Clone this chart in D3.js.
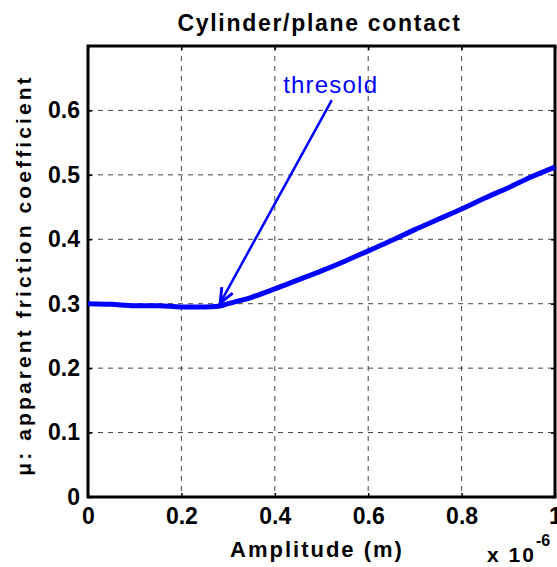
<!DOCTYPE html>
<html><head><meta charset="utf-8">
<script src="https://cdn.jsdelivr.net/npm/d3@7"></script>
<style>
body{margin:0;background:#fff;}
svg{display:block;font-family:"Liberation Sans",Arial,Helvetica,sans-serif;}
</style></head>
<body><svg id="c" width="557" height="567"></svg>
<script>
// Data (amplitude in units of 1e-6 m)
const amplitude = [0,0.05,0.1,0.15,0.2,0.25,0.28,0.3,0.35,0.4,0.45,0.5,0.55,0.6,0.65,0.7,0.75,0.8,0.85,0.9,0.95,1.0];
const mu =        [0.300,0.299,0.297,0.297,0.295,0.295,0.296,0.300,0.310,0.323,0.337,0.351,0.366,0.382,0.398,0.415,0.431,0.447,0.464,0.480,0.497,0.512];
const xTicks = [0,0.2,0.4,0.6,0.8,1];
const xTickLabels = ["0","0.2","0.4","0.6","0.8","1"];
const yTicks = [0,0.1,0.2,0.3,0.4,0.5,0.6];
const yTickLabels = ["0","0.1","0.2","0.3","0.4","0.5","0.6"];
const arrowFrom = [0.522, 0.616];
const arrowTo = [0.283, 0.301];
const annotPos = [0.418, 0.627];
const annotText = "thresold";
const titleText = "Cylinder/plane contact";
const xLabelText = "Amplitude (m)";
const yLabelText = "μ: apparent friction coefficient";

const L=88, R=555, T=46, B=497;
const x = d3.scaleLinear().domain([0,1]).range([L,R]);
const y = d3.scaleLinear().domain([0,0.7]).range([B,T]);
const svg = d3.select("#c");

// grid
const g = svg.append("g");
g.selectAll(".gx").data(xTicks.slice(1,-1)).join("line")
  .attr("x1",d=>x(d)).attr("x2",d=>x(d)).attr("y1",T).attr("y2",B)
  .attr("stroke","#444").attr("stroke-width",1).attr("stroke-dasharray","5,5");
g.selectAll(".gy").data(yTicks.slice(1)).join("line")
  .attr("y1",d=>y(d)).attr("y2",d=>y(d)).attr("x1",L).attr("x2",R)
  .attr("stroke","#444").attr("stroke-width",1).attr("stroke-dasharray","5,5");

// axes with inner ticks
const ax = svg.append("g").attr("transform",`translate(0,${B})`)
  .call(d3.axisBottom(x).tickValues(xTicks).tickFormat((d,i)=>xTickLabels[i]).tickSizeInner(-4).tickSizeOuter(0).tickPadding(10));
const axt = svg.append("g").attr("transform",`translate(0,${T})`)
  .call(d3.axisTop(x).tickValues(xTicks).tickFormat("").tickSizeInner(-4).tickSizeOuter(0));
const ay = svg.append("g").attr("transform",`translate(${L},0)`)
  .call(d3.axisLeft(y).tickValues(yTicks).tickFormat((d,i)=>yTickLabels[i]).tickSizeInner(-4).tickSizeOuter(0).tickPadding(8));
const ayr = svg.append("g").attr("transform",`translate(${R},0)`)
  .call(d3.axisRight(y).tickValues(yTicks).tickFormat("").tickSizeInner(-4).tickSizeOuter(0));
[ax,axt,ay,ayr].forEach(a=>{
  a.select(".domain").remove();
  a.selectAll(".tick line").attr("stroke","#000").attr("stroke-width",1.5);
  a.selectAll("text").attr("font-size",23).attr("font-weight","bold").attr("fill","#000")
   .attr("font-family","'Liberation Sans',Arial,sans-serif");
});
ax.selectAll("text").attr("dy","0.71em").attr("y",11);

// box
svg.append("rect").attr("x",L).attr("y",T).attr("width",R-L).attr("height",B-T)
  .attr("fill","none").attr("stroke","#000").attr("stroke-width",3);

// curve
const line = d3.line().x((d,i)=>x(amplitude[i])).y(d=>y(d)).curve(d3.curveMonotoneX);
svg.append("path").datum(mu).attr("d",line).attr("fill","none")
  .attr("stroke","#0000ff").attr("stroke-width",5).attr("stroke-linejoin","round");

// arrow
const x1=x(arrowFrom[0]), y1=y(arrowFrom[1]), x2=x(arrowTo[0]), y2=y(arrowTo[1]);
svg.append("line").attr("x1",x1).attr("y1",y1).attr("x2",x2).attr("y2",y2)
  .attr("stroke","#0000ff").attr("stroke-width",2.5);
const ang=Math.atan2(y2-y1,x2-x1), hl=16, ha=0.4;
const hp=[[x2-hl*Math.cos(ang-ha),y2-hl*Math.sin(ang-ha)],[x2,y2],[x2-hl*Math.cos(ang+ha),y2-hl*Math.sin(ang+ha)]];
svg.append("path").attr("d",d3.line()(hp)).attr("fill","none")
  .attr("stroke","#0000ff").attr("stroke-width",3);
svg.append("text").attr("x",x(annotPos[0])).attr("y",y(annotPos[1]))
  .attr("font-size",24).attr("letter-spacing",1.2).attr("fill","#0000ff").text(annotText);

// title & labels
svg.append("text").attr("x",(L+R)/2-2).attr("y",31).attr("text-anchor","middle")
  .attr("font-size",23).attr("font-weight","bold").attr("letter-spacing",1.7).text(titleText);
svg.append("text").attr("x",317).attr("y",557).attr("text-anchor","middle")
  .attr("font-size",22).attr("font-weight","bold").attr("letter-spacing",2).text(xLabelText);
svg.append("text").attr("transform",`translate(31,275) rotate(-90)`).attr("text-anchor","middle")
  .attr("font-size",21).attr("font-weight","bold").attr("letter-spacing",3.1).text(yLabelText);
const ex = svg.append("text").attr("x",487).attr("y",562).attr("font-size",21).attr("font-weight","bold").attr("letter-spacing",2);
ex.append("tspan").text("x 10");
ex.append("tspan").attr("dy",-16).attr("font-size",16).attr("letter-spacing",0).text("-6");
</script></body></html>
